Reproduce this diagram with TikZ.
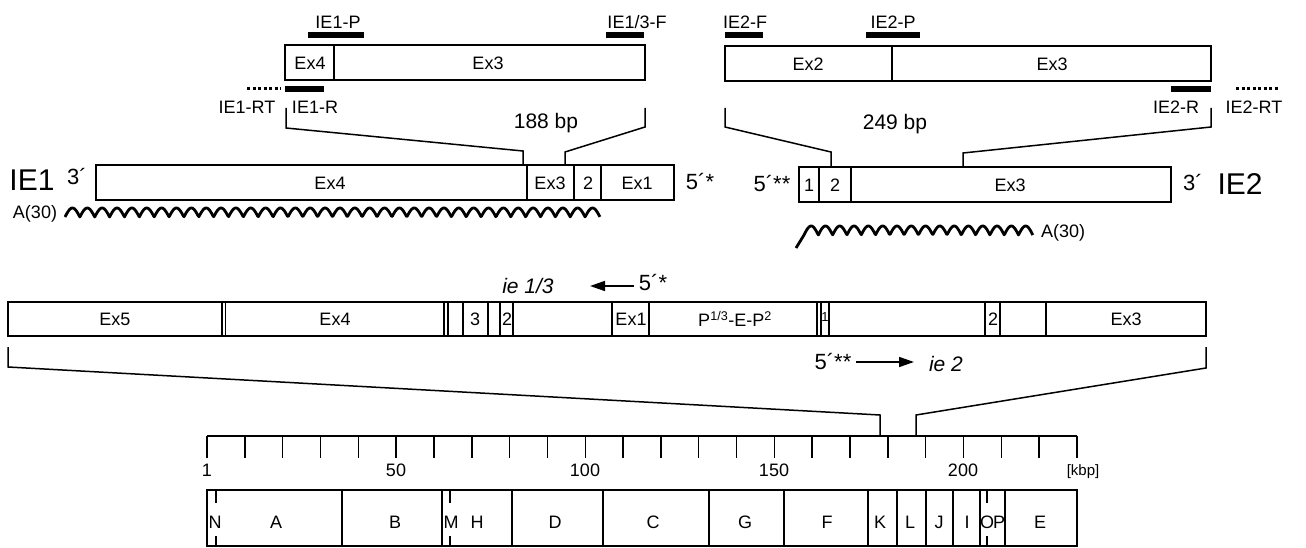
\documentclass[tikz,border=0pt]{standalone}
\usepackage{fontspec}
\setmainfont{Liberation Sans}
\usetikzlibrary{arrows.meta}
\newcommand{\fsz}[1]{\fontsize{#1}{#1}\selectfont}
\newcommand{\mbar}[4]{\node[pbar, minimum width={(#3)-(#2)}] (#1) at ({((#2)+(#3))/2},#4) {};}
\begin{document}
\begin{tikzpicture}[x=1pt,y=-1pt,
 boxn/.style={draw, line width=1.5pt, inner sep=0pt, outer sep=0pt},
 divl/.style={line width=1.5pt},
 pbar/.style={fill, draw=none, minimum height=6, inner sep=0pt, outer sep=0pt},
 lbl/.style={inner sep=0pt, outer sep=0pt, font=\fsz{18}},
 big/.style={inner sep=0pt, font=\fsz{30}},
 prm/.style={inner sep=0pt, font=\fsz{22}},
 bp/.style={inner sep=0pt, font=\fsz{21}},
 itl/.style={inner sep=0pt, font=\fsz{21}\itshape},
 pa/.style={inner sep=0pt, font=\fsz{18}},
 conn/.style={line width=1.5pt, line join=miter},
 dotl/.style={line width=3pt, dash pattern=on 3pt off 2.5pt},
 wave/.style={line width=2.8pt, line join=round},
 arr/.style={line width=1.6pt, -{Triangle[length=15pt,width=10pt]}},
 tickl/.style={line width=1.5pt}]
\useasboundingbox (0,0) rectangle (1306,548);

% ---------- top left cDNA fragment ----------
\node[boxn, minimum width=360, minimum height=35] (tlbox) at (465,62.5) {};
\draw[divl] (334,45) -- (334,80);
\node[lbl] (tlEx4) at (310,63) {Ex4};
\node[lbl] (tlEx3) at (488,63) {Ex3};
\mbar{pIEoneP}{308}{364}{35}
\mbar{pIEoneF}{606}{644}{35}
\mbar{pIEoneR}{285}{324}{89}
\node[lbl] (lIEoneP) at (338,22) {IE1-P};
\node[lbl] (lIEoneF) at (637,22) {IE1/3-F};
\node[lbl] (lIEoneRT) at (247,107) {IE1-RT};
\node[lbl] (lIEoneR) at (315,107) {IE1-R};
\coordinate (dA1) at (247,89); \coordinate (dA2) at (281,89);
\draw[dotl] (dA1) -- (dA2);

% ---------- top right cDNA fragment ----------
\node[boxn, minimum width=486, minimum height=35] (trbox) at (968,63.5) {};
\draw[divl] (892,46) -- (892,81);
\node[lbl] (trEx2) at (808,64) {Ex2};
\node[lbl] (trEx3) at (1052,64) {Ex3};
\mbar{pIEtwoF}{725}{763}{35}
\mbar{pIEtwoP}{866}{920}{35}
\mbar{pIEtwoR}{1171}{1211}{89}
\node[lbl] (lIEtwoF) at (745,22) {IE2-F};
\node[lbl] (lIEtwoP) at (893,22) {IE2-P};
\node[lbl] (lIEtwoR) at (1176,107) {IE2-R};
\node[lbl] (lIEtwoRT) at (1254,107) {IE2-RT};
\coordinate (dB1) at (1236,89); \coordinate (dB2) at (1278,89);
\draw[dotl] (dB1) -- (dB2);

% ---------- IE1 transcript ----------
\node[boxn, minimum width=578, minimum height=35] (ieone) at (385,182.5) {};
\foreach \d in {527,574,601} \draw[divl] (\d,165) -- (\d,200);
\node[big] (tIEone) at (32,180) {IE1};
\node[prm] (tthree) at (77,177) {3´};
\node[lbl] (oEx4) at (330,183) {Ex4};
\node[lbl] (oEx3) at (550,183) {Ex3};
\node[lbl] (oTwo) at (588,183) {2};
\node[lbl] (oEx1) at (637,183) {Ex1};
\node[prm] (tfivea) at (700,182) {5´*};
\node[pa] (polyA1) at (35,214) {A(30)};
\draw[wave] plot[domain=0:36, samples=720] ({65+\x*14.86}, {217-9*abs(sin(\x*180))});

% ---------- IE2 transcript ----------
\node[boxn, minimum width=372, minimum height=35] (ietwo) at (985,184.5) {};
\foreach \d in {819,851} \draw[divl] (\d,167) -- (\d,202);
\node[prm] (tfiveb) at (772,184) {5´**};
\node[lbl] (wOne) at (809,185) {1};
\node[lbl] (wTwo) at (835,185) {2};
\node[lbl] (wEx3) at (1010,185) {Ex3};
\node[prm] (tthreeb) at (1193,183) {3´};
\node[big] (tIEtwo) at (1240,184) {IE2};
\node[pa] (polyA2) at (1063,233) {A(30)};
\coordinate (wt1) at (796,248); \coordinate (wt2) at (804,235);
\draw[wave] (wt1) -- (wt2) -- plot[domain=0:16, samples=320] ({804+\x*14.3}, {235-9*abs(sin(\x*180))});

% ---------- brackets to transcripts ----------
\coordinate (a1) at (286,108); \coordinate (a2) at (286,128); \coordinate (a3) at (523,151); \coordinate (a4) at (523,165);
\coordinate (b1) at (645,108); \coordinate (b2) at (645,127); \coordinate (b3) at (565,152); \coordinate (b4) at (565,165);
\draw[conn] (a1) -- (a2) -- (a3) -- (a4);
\draw[conn] (b1) -- (b2) -- (b3) -- (b4);
\node[bp] (bpone) at (546,123) {188 bp};
\coordinate (c1) at (725,108); \coordinate (c2) at (725,127); \coordinate (c3) at (831,152); \coordinate (c4) at (831,167);
\coordinate (e1) at (1211,108); \coordinate (e2) at (1211,127); \coordinate (e3) at (963,153); \coordinate (e4) at (963,167);
\draw[conn] (c1) -- (c2) -- (c3) -- (c4);
\draw[conn] (e1) -- (e2) -- (e3) -- (e4);
\node[bp] (bptwo) at (895,124) {249 bp};

% ---------- genomic region ----------
\node[itl] (ieonethree) at (528,286) {ie 1/3};
\coordinate (ar1s) at (634,286); \coordinate (ar1e) at (590,286);
\draw[arr] (ar1s) -- (ar1e);
\node[prm] (gfivea) at (653,283) {5´*};
\node[boxn, minimum width=1198, minimum height=34] (main) at (607,319) {};
\foreach \d in {222,225.5,444,448,463,488,500,513,612,649,817,821,829,985,1000,1046} \draw[divl] (\d,302) -- (\d,336);
\node[lbl] (gEx5) at (115,319) {Ex5};
\node[lbl] (gEx4) at (335,319) {Ex4};
\node[lbl] (gThree) at (475,319) {3};
\node[lbl] (gTwo) at (507,319) {2};
\node[lbl] (gEx1) at (631,319) {Ex1};
\node[lbl] (gPEP) at (735,319) {P\textsuperscript{1/3}-E-P\textsuperscript{2}};
\node[inner sep=0pt, font=\fsz{13}] (gOne) at (825,317) {1};
\node[lbl] (gTwoB) at (993,319) {2};
\node[lbl] (gEx3) at (1126,319) {Ex3};
\node[prm] (gfiveb) at (833,362) {5´**};
\coordinate (ar2s) at (856,362); \coordinate (ar2e) at (914,362);
\draw[arr] (ar2s) -- (ar2e);
\node[itl] (ietwolbl) at (946,364) {ie 2};

% ---------- brackets to genome ruler ----------
\coordinate (f1) at (8,347); \coordinate (f2) at (8,367); \coordinate (f3) at (880,415); \coordinate (f4) at (880,436);
\coordinate (g1) at (1206,347); \coordinate (g2) at (1206,368); \coordinate (g3) at (916,415); \coordinate (g4) at (916,436);
\draw[conn] (f1) -- (f2) -- (f3) -- (f4);
\draw[conn] (g1) -- (g2) -- (g3) -- (g4);

% ---------- ruler ----------
\coordinate (r0) at (207,436); \coordinate (r1) at (1077,436);
\draw[tickl] (r0) -- (r1);
\foreach \i in {0,...,23} \draw[tickl] ({207+\i*37.826},436) -- ({207+\i*37.826},458);
\node[lbl] (k1) at (207,470) {1};
\node[lbl] (k50) at (396,470) {50};
\node[lbl] (k100) at (585,470) {100};
\node[lbl] (k150) at (774,470) {150};
\node[lbl] (k200) at (963,470) {200};
\node[inner sep=0pt, font=\fsz{15}] (kbp) at (1083,472) {[kbp]};

% ---------- fragment map ----------
\node[boxn, minimum width=870, minimum height=56] (frag) at (642,518) {};
\foreach \d in {342,442,512,603,709,784,868,897,926,953,980,1005} \draw[divl] (\d,490) -- (\d,546);
\foreach \d in {216,450,987} {\draw[divl] (\d,490) -- (\d,503); \draw[divl] (\d,536) -- (\d,546);}
\foreach \n/\x in {N/215,A/276,B/395,M/451,H/477,D/555,C/653,G/745,F/827,K/880,L/910,J/939,I/967,O/987,P/999,E/1040}
  \node[lbl] (fr\n) at (\x,522) {\n};
\end{tikzpicture}
\end{document}
